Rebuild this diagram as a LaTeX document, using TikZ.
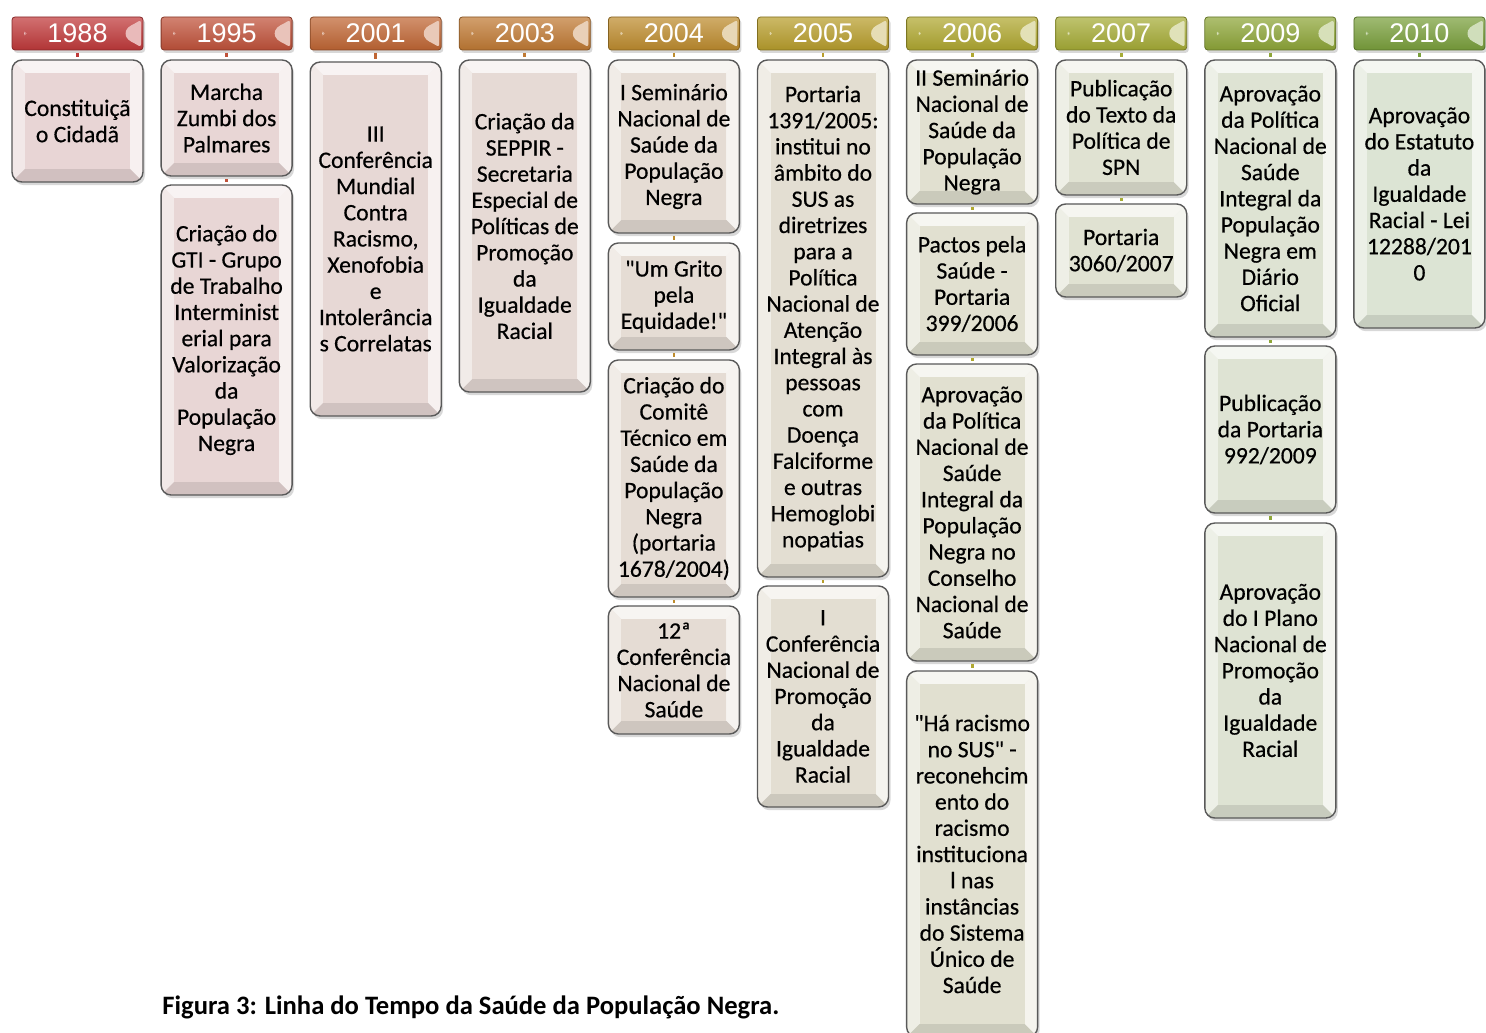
\documentclass[tikz,border=0pt]{standalone}
\usepackage{fontspec}
\setmainfont{Carlito}
\newfontfamily\evfamily[FakeBold=0.5]{Carlito}
\newfontfamily\hdrfamily{Liberation Sans}
\usetikzlibrary{calc,shadows}
\definecolor{h1}{RGB}{192,57,58}
\definecolor{h2}{RGB}{192,82,58}
\definecolor{h3}{RGB}{192,102,52}
\definecolor{h4}{RGB}{192,122,52}
\definecolor{h5}{RGB}{190,140,46}
\definecolor{h6}{RGB}{184,158,44}
\definecolor{h7}{RGB}{176,168,48}
\definecolor{h8}{RGB}{166,172,54}
\definecolor{h9}{RGB}{142,166,56}
\definecolor{h10}{RGB}{122,160,60}
\definecolor{b1}{RGB}{232,213,213}
\definecolor{b2}{RGB}{232,214,213}
\definecolor{b3}{RGB}{231,216,213}
\definecolor{b4}{RGB}{230,218,213}
\definecolor{b5}{RGB}{229,220,212}
\definecolor{b6}{RGB}{227,222,210}
\definecolor{b7}{RGB}{225,224,208}
\definecolor{b8}{RGB}{224,226,210}
\definecolor{b9}{RGB}{222,227,211}
\definecolor{b10}{RGB}{220,228,212}
\newcommand\boxfont{\evfamily\fontsize{11.8}{13.1}\selectfont}
\newcommand\yrfont{\hdrfamily\fontsize{13.5}{14}\selectfont}
\newcommand\qq{\symbol{34}}
\tikzset{
  evbox/.style={draw=black!65, line width=0.7pt, rounded corners=5pt,
    fill=#1!45!white, minimum width=65.5pt, inner sep=0pt, align=center,
    font=\boxfont, text=black,
    drop shadow={opacity=0.3, shadow xshift=1pt, shadow yshift=-1.6pt},
    path picture={
      \path (path picture bounding box.south west) coordinate (pSW)
            (path picture bounding box.north east) coordinate (pNE)
            (path picture bounding box.south east) coordinate (pSE)
            (path picture bounding box.north west) coordinate (pNW);
      \fill[sharp corners,#1!30!white] (pNW) -- (pNE) -- ($(pNE)+(-6.5pt,-6.5pt)$) -- ($(pNW)+(6.5pt,-6.5pt)$) -- cycle;
      \fill[sharp corners,#1!55!white] (pNW) -- ($(pNW)+(6.5pt,-6.5pt)$) -- ($(pSW)+(6.5pt,6.5pt)$) -- (pSW) -- cycle;
      \fill[sharp corners,#1!35!white] (pNE) -- ($(pNE)+(-6.5pt,-6.5pt)$) -- ($(pSE)+(-6.5pt,6.5pt)$) -- (pSE) -- cycle;
      \fill[sharp corners,#1!90!black] (pSW) -- ($(pSW)+(6.5pt,6.5pt)$) -- ($(pSE)+(-6.5pt,6.5pt)$) -- (pSE) -- cycle;
      \fill[sharp corners,#1] ($(pSW)+(6.5pt,6.5pt)$) rectangle ($(pNE)+(-6.5pt,-6.5pt)$);
    }},
  yr/.style={minimum width=65.5pt, minimum height=16.5pt, inner sep=0pt,
    rounded corners=1.5pt, draw=#1!70!black, line width=0.4pt,
    top color=#1!72!white, bottom color=#1!92!black, text=white, font=\yrfont,
    drop shadow={opacity=0.3, shadow xshift=1pt, shadow yshift=-1.4pt},
    path picture={
      \fill[#1!35!white] ($(path picture bounding box.north east)+(-1pt,-1.3pt)$)
        to[out=215,in=70] ($(path picture bounding box.east)+(-9pt,0)$)
        to[out=-70,in=145] ($(path picture bounding box.south east)+(-1pt,1.3pt)$) -- cycle;
      \fill[#1!35!white] ($(path picture bounding box.west)+(6pt,1pt)$) -- ($(path picture bounding box.west)+(7.3pt,0)$) -- ($(path picture bounding box.west)+(6pt,-1pt)$) -- cycle;
    }},
  tick/.style={draw=#1, line width=1.4pt, shorten >=1.3pt, shorten <=1.3pt},
  capt/.style={anchor=base west, inner sep=0pt, font=\bfseries\fontsize{13.3}{15}\selectfont}
}
\begin{document}
\begin{tikzpicture}[x=0.5pt,y=-0.5pt]
\useasboundingbox (0,0) rectangle (1486,1032);
\clip (0,0) rectangle (1486,1032);
\fill[white] (0,0) rectangle (1486,1032);
% headers
\node[yr=h1] (y1) at (77.5,33.5) {1988};
\node[yr=h2] (y2) at (226.6,33.5) {1995};
\node[yr=h3] (y3) at (375.7,33.5) {2001};
\node[yr=h4] (y4) at (524.8,33.5) {2003};
\node[yr=h5] (y5) at (673.9,33.5) {2004};
\node[yr=h6] (y6) at (823,33.5) {2005};
\node[yr=h7] (y7) at (972.1,33.5) {2006};
\node[yr=h8] (y8) at (1121.2,33.5) {2007};
\node[yr=h9] (y9) at (1270.3,33.5) {2009};
\node[yr=h10] (y10) at (1419.4,33.5) {2010};
% events
\node[evbox=b1, minimum height=61pt] (e1a) at (77.5,121) {Constituiçã\\o Cidadã};
\node[evbox=b2, minimum height=58pt] (e2a) at (226.6,118) {Marcha\\Zumbi dos\\Palmares};
\node[evbox=b2, minimum height=155pt] (e2b) at (226.6,340) {Criação do\\GTI - Grupo\\de Trabalho\\Interminist\\erial para\\Valorização\\da\\População\\Negra};
\node[evbox=b3, minimum height=177pt] (e3a) at (375.7,239) {III\\Conferência\\Mundial\\Contra\\Racismo,\\Xenofobia\\e\\Intolerância\\s Correlatas};
\node[evbox=b4, minimum height=166pt] (e4a) at (524.8,226) {Criação da\\SEPPIR -\\Secretaria\\Especial de\\Políticas de\\Promoção\\da\\Igualdade\\Racial};
\node[evbox=b5, minimum height=86.5pt] (e5a) at (673.9,146.5) {I Seminário\\Nacional de\\Saúde da\\População\\Negra};
\node[evbox=b5, minimum height=53.5pt] (e5b) at (673.9,296.5) {\qq Um Grito\\pela\\Equidade!\qq};
\node[evbox=b5, minimum height=118.5pt] (e5c) at (673.9,478.5) {Criação do\\Comitê\\Técnico em\\Saúde da\\População\\Negra\\(portaria\\1678/2004)};
\node[evbox=b5, minimum height=64pt] (e5d) at (673.9,670) {12ª\\Conferência\\Nacional de\\Saúde};
\node[evbox=b6, minimum height=258.5pt] (e6a) at (823,318.5) {Portaria\\1391/2005:\\institui no\\âmbito do\\SUS as\\diretrizes\\para a\\Política\\Nacional de\\Atenção\\Integral às\\pessoas\\com\\Doença\\Falciforme\\e outras\\Hemoglobi\\nopatias};
\node[evbox=b6, minimum height=110.5pt] (e6b) at (823,696.5) {I\\Conferência\\Nacional de\\Promoção\\da\\Igualdade\\Racial};
\node[evbox=b7, minimum height=72pt] (e7a) at (972.1,132) {II Seminário\\Nacional de\\Saúde da\\População\\Negra};
\node[evbox=b7, minimum height=71pt] (e7b) at (972.1,284) {Pactos pela\\Saúde -\\Portaria\\399/2006};
\node[evbox=b7, minimum height=148.5pt] (e7c) at (972.1,512.5) {Aprovação\\da Política\\Nacional de\\Saúde\\Integral da\\População\\Negra no\\Conselho\\Nacional de\\Saúde};
\node[evbox=b7, minimum height=183pt] (e7d) at (972.1,854) {\qq Há racismo\\no SUS\qq{} -\\reconehcim\\ento do\\racismo\\instituciona\\l nas\\instâncias\\do Sistema\\Único de\\Saúde};
\node[evbox=b8, minimum height=67.5pt] (e8a) at (1121.2,127.5) {Publicação\\do Texto da\\Política de\\SPN};
\node[evbox=b8, minimum height=46.5pt] (e8b) at (1121.2,250.5) {Portaria\\3060/2007};
\node[evbox=b9, minimum height=138.5pt] (e9a) at (1270.3,198.5) {Aprovação\\da Política\\Nacional de\\Saúde\\Integral da\\População\\Negra em\\Diário\\Oficial};
\node[evbox=b9, minimum height=83.5pt] (e9b) at (1270.3,429.5) {Publicação\\da Portaria\\992/2009};
\node[evbox=b9, minimum height=147.5pt] (e9c) at (1270.3,670.5) {Aprovação\\do I Plano\\Nacional de\\Promoção\\da\\Igualdade\\Racial};
\node[evbox=b10, minimum height=134pt] (e10a) at (1419.4,194) {Aprovação\\do Estatuto\\da\\Igualdade\\Racial - Lei\\12288/201\\0};
% ticks
\draw[tick=h1] (y1.south) -- (e1a.north);
\draw[tick=h2] (y2.south) -- (e2a.north);
\draw[tick=h2] (e2a.south) -- (e2b.north);
\draw[tick=h3] (y3.south) -- (e3a.north);
\draw[tick=h4] (y4.south) -- (e4a.north);
\draw[tick=h5] (y5.south) -- (e5a.north);
\draw[tick=h5] (e5a.south) -- (e5b.north);
\draw[tick=h5] (e5b.south) -- (e5c.north);
\draw[tick=h5] (e5c.south) -- (e5d.north);
\draw[tick=h6] (y6.south) -- (e6a.north);
\draw[tick=h6] (e6a.south) -- (e6b.north);
\draw[tick=h7] (y7.south) -- (e7a.north);
\draw[tick=h7] (e7a.south) -- (e7b.north);
\draw[tick=h7] (e7b.south) -- (e7c.north);
\draw[tick=h7] (e7c.south) -- (e7d.north);
\draw[tick=h8] (y8.south) -- (e8a.north);
\draw[tick=h8] (e8a.south) -- (e8b.north);
\draw[tick=h9] (y9.south) -- (e9a.north);
\draw[tick=h9] (e9a.south) -- (e9b.north);
\draw[tick=h9] (e9b.south) -- (e9c.north);
\draw[tick=h10] (y10.south) -- (e10a.north);
% caption
\node[capt] (cap) at (162,1014) {Figura 3: Linha do Tempo da Saúde da População Negra.};
\end{tikzpicture}
\end{document}
